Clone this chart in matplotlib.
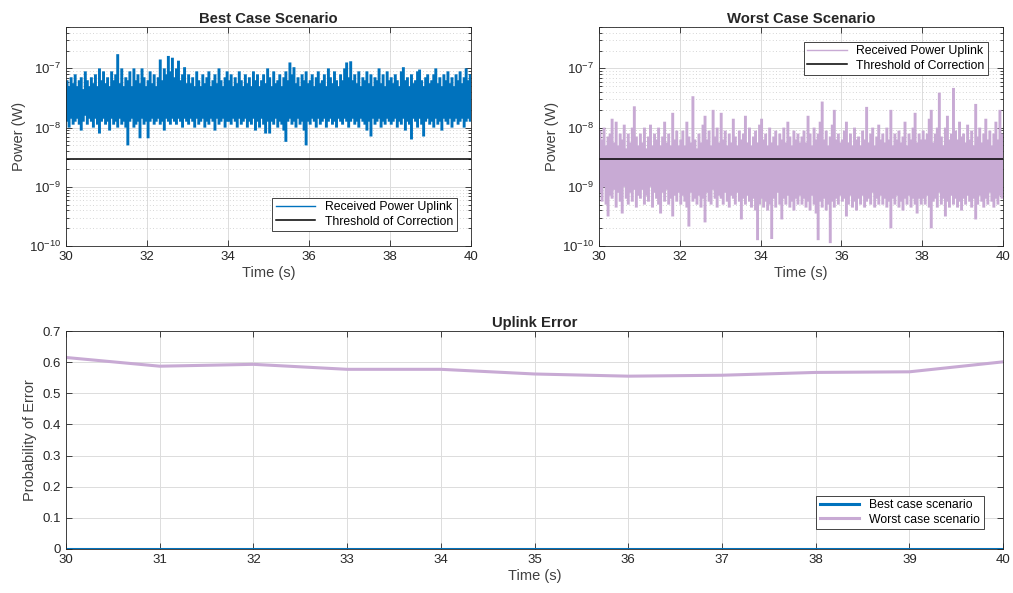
import numpy as np
import matplotlib.pyplot as plt
from matplotlib.ticker import LogLocator, MultipleLocator, NullFormatter

plt.rcParams['font.family'] = ['Liberation Sans', 'DejaVu Sans']
plt.rcParams['mathtext.fontset'] = 'custom'
plt.rcParams['mathtext.rm'] = 'Liberation Sans'
plt.rcParams['mathtext.default'] = 'regular'

# received power is very dense, so it is read off the picture as the
# top and bottom of the trace in 200 slices of 0.05 s, in log10(W)
best_upper = [
    -7.2, -7.3, -7.15, -7.25, -7.1, -7.3, -7.2, -7.15, -7.35, -7.05, -7.2, -7.3, -7.15, -7.25, -7.1, -7.3, -7.0, -7.2, -7.05, -7.25,
    -7.15, -7.3, -7.05, -7.2, -7.1, -6.76, -7.25, -7.0, -7.3, -7.15, -7.2, -7.05, -7.3, -7.0, -7.2, -7.1, -7.25, -7.0, -7.15, -7.3,
    -7.2, -7.05, -7.25, -7.1, -7.3, -7.15, -6.85, -7.2, -7.0, -7.1, -6.79, -7.05, -6.82, -7.15, -7.0, -6.87, -7.2, -7.1, -6.98, -7.25,
    -7.1, -7.25, -7.15, -7.3, -7.05, -7.2, -7.3, -7.1, -7.25, -7.15, -7.05, -7.3, -7.2, -7.1, -7.25, -7.0, -7.2, -7.3, -7.15, -7.05,
    -7.2, -7.1, -7.3, -7.15, -7.25, -7.05, -7.2, -7.3, -7.1, -7.25, -7.15, -7.3, -7.05, -7.2, -7.1, -7.3, -7.2, -7.1, -7.25, -7.0,
    -7.15, -7.3, -7.05, -7.25, -7.2, -7.1, -7.3, -7.15, -7.05, -7.2, -6.9, -7.1, -6.98, -7.25, -7.15, -7.3, -7.1, -7.2, -7.05, -7.25,
    -7.2, -7.1, -7.3, -7.15, -7.05, -7.25, -7.2, -7.1, -7.3, -7.0, -7.15, -7.25, -7.05, -7.2, -7.3, -7.1, -7.2, -7.0, -6.9, -7.15,
    -6.88, -7.2, -7.1, -7.25, -7.05, -7.3, -7.15, -7.2, -7.05, -7.25, -7.1, -7.3, -7.15, -7.2, -7.0, -7.25, -7.1, -7.3, -7.05, -7.2,
    -7.15, -7.25, -7.1, -7.2, -7.3, -7.05, -6.98, -7.2, -7.15, -7.3, -7.1, -7.25, -7.2, -7.05, -7.02, -7.2, -7.3, -7.15, -7.1, -7.25,
    -7.2, -7.1, -7.0, -7.25, -7.15, -7.3, -7.1, -7.2, -7.05, -7.25, -7.15, -7.3, -7.1, -7.2, -7.05, -7.25, -7.15, -7.0, -7.2, -7.1,
]
best_lower = [
    -7.9, -8.0, -7.85, -7.95, -7.9, -7.85, -7.95, -8.05, -7.9, -7.8, -7.95, -7.85, -7.9, -8.0, -7.85, -7.95, -8.1, -7.9, -7.85, -7.95,
    -7.9, -8.05, -7.85, -7.95, -7.9, -8.0, -7.85, -7.95, -7.9, -8.0, -8.3, -7.9, -7.85, -8.0, -7.95, -7.9, -8.18, -7.85, -7.95, -7.9,
    -8.18, -7.9, -7.85, -7.95, -7.9, -7.85, -7.95, -7.9, -8.05, -7.85, -7.9, -7.95, -7.85, -7.9, -7.95, -7.85, -7.9, -8.0, -7.85, -7.9,
    -7.95, -7.85, -7.9, -8.0, -7.85, -7.95, -7.9, -7.85, -8.0, -7.9, -7.95, -7.85, -7.9, -8.05, -7.85, -7.95, -7.9, -7.85, -8.0, -7.9,
    -7.9, -7.95, -7.85, -7.9, -8.0, -7.85, -7.95, -7.9, -7.85, -8.0, -7.9, -7.95, -7.85, -8.05, -7.9, -8.0, -7.85, -7.95, -8.1, -7.9,
    -8.1, -7.9, -7.95, -7.85, -8.0, -7.9, -7.95, -8.05, -8.24, -7.9, -7.85, -7.95, -7.9, -8.0, -7.85, -7.95, -7.9, -8.05, -8.3, -7.9,
    -7.95, -7.85, -7.9, -8.0, -7.85, -7.95, -7.9, -7.85, -8.0, -7.9, -7.85, -7.95, -7.9, -8.0, -7.85, -7.9, -7.95, -7.85, -7.9, -8.0,
    -7.9, -7.85, -7.95, -7.9, -8.0, -7.85, -7.9, -7.95, -8.05, -7.9, -8.15, -7.85, -7.95, -7.9, -7.85, -8.0, -7.9, -7.95, -7.85, -7.9,
    -7.95, -7.9, -7.85, -8.0, -7.9, -7.95, -7.85, -8.05, -7.9, -7.95, -8.2, -7.85, -7.9, -8.0, -7.85, -7.95, -8.15, -7.9, -7.85, -7.95,
    -7.9, -8.0, -7.85, -7.95, -7.9, -8.05, -7.85, -7.9, -7.95, -7.85, -8.0, -7.9, -7.85, -7.95, -7.9, -7.85, -8.0, -7.9, -7.85, -7.9,
]
worst_upper = [
    -8.05, -8.2, -8.0, -8.3, -8.15, -8.1, -7.85, -8.25, -7.9, -8.3, -8.1, -8.2, -7.95, -8.35, -8.1, -8.25, -8.0, -7.64, -8.15, -8.3,
    -8.1, -8.25, -8.0, -8.35, -8.15, -7.95, -8.3, -8.1, -8.2, -8.0, -8.3, -8.15, -7.9, -8.25, -8.1, -8.3, -7.75, -8.2, -8.05, -8.3,
    -8.2, -8.05, -8.3, -7.9, -8.15, -8.25, -7.47, -8.2, -8.35, -8.1, -8.25, -7.95, -7.8, -8.2, -8.05, -8.3, -7.7, -8.15, -8.0, -8.25,
    -7.75, -8.2, -8.05, -8.3, -8.1, -8.25, -7.85, -8.15, -8.3, -8.05, -8.2, -8.1, -7.8, -8.25, -8.0, -8.3, -8.15, -8.05, -8.25, -7.95,
    -7.85, -8.2, -8.1, -8.3, -8.0, -8.25, -8.15, -8.05, -8.3, -8.1, -8.2, -8.0, -8.25, -7.9, -8.15, -8.3, -8.05, -8.2, -8.1, -8.25,
    -8.15, -8.05, -8.25, -7.8, -8.1, -8.3, -8.0, -8.2, -8.1, -7.9, -7.56, -8.2, -8.05, -8.3, -8.15, -7.95, -7.7, -8.2, -8.1, -8.25,
    -8.2, -8.05, -7.9, -8.25, -8.1, -8.3, -8.0, -8.2, -8.15, -8.3, -8.05, -8.2, -7.65, -8.25, -8.1, -8.0, -8.3, -8.15, -7.95, -8.2,
    -8.1, -8.25, -8.0, -8.2, -7.7, -8.3, -8.1, -8.2, -8.05, -8.25, -8.15, -7.9, -8.3, -8.1, -8.2, -8.0, -7.75, -8.25, -8.1, -8.2,
    -8.05, -8.2, -8.1, -7.85, -7.7, -8.25, -8.1, -8.0, -7.41, -8.15, -8.3, -8.0, -7.8, -8.2, -8.1, -7.33, -8.05, -8.2, -7.9, -8.15,
    -8.1, -8.25, -7.95, -8.2, -8.05, -8.3, -7.6, -8.15, -8.0, -8.25, -8.1, -7.85, -8.2, -8.05, -8.3, -8.1, -7.9, -8.2, -7.7, -8.1,
]
worst_lower = [
    -9.1, -9.25, -9.0, -9.3, -9.5, -9.15, -9.2, -9.05, -9.35, -9.1, -9.25, -9.45, -9.0, -9.2, -9.3, -9.1, -9.25, -9.05, -9.35, -9.15,
    -9.2, -9.05, -9.3, -9.15, -9.25, -9.0, -9.35, -9.1, -9.2, -9.3, -9.45, -9.1, -9.25, -9.05, -9.3, -9.2, -9.5, -9.15, -9.25, -9.1,
    -9.3, -9.15, -9.25, -9.35, -9.67, -9.1, -9.25, -9.2, -9.3, -9.15, -9.35, -9.2, -9.6, -9.1, -9.25, -9.3, -9.05, -9.2, -9.35, -9.15,
    -9.2, -9.3, -9.1, -9.25, -9.35, -9.15, -9.2, -9.3, -9.1, -9.25, -9.55, -9.2, -9.3, -9.15, -9.25, -9.35, -9.2, -9.4, -9.9, -9.3,
    -9.2, -9.35, -9.25, -9.4, -9.3, -9.88, -9.2, -9.35, -9.1, -9.3, -9.55, -9.2, -9.3, -9.15, -9.35, -9.25, -9.4, -9.2, -9.3, -9.15,
    -9.3, -9.2, -9.35, -9.25, -9.4, -9.15, -9.3, -9.45, -9.9, -9.25, -9.35, -9.2, -9.4, -9.3, -9.95, -9.25, -9.35, -9.2, -9.3, -9.15,
    -9.25, -9.2, -9.5, -9.3, -9.15, -9.35, -9.25, -9.4, -9.2, -9.3, -9.15, -9.35, -9.25, -9.2, -9.3, -9.1, -9.35, -9.2, -9.3, -9.15,
    -9.3, -9.2, -9.35, -9.25, -9.7, -9.2, -9.3, -9.15, -9.35, -9.25, -9.4, -9.2, -9.3, -9.15, -9.35, -9.2, -9.3, -9.45, -9.2, -9.3,
    -9.2, -9.3, -9.15, -9.35, -9.7, -9.25, -9.2, -9.35, -9.1, -9.3, -9.2, -9.5, -9.25, -9.35, -9.15, -9.3, -9.2, -9.35, -9.25, -9.4,
    -9.2, -9.3, -9.15, -9.25, -9.35, -9.2, -9.55, -9.3, -9.15, -9.25, -9.35, -9.2, -9.3, -9.1, -9.25, -9.35, -9.2, -9.3, -9.15, -9.2,
]
threshold = 3e-9

error_time = [30, 31, 32, 33, 34, 35, 36, 37, 38, 39, 40]
best_error = [0, 0, 0, 0, 0, 0, 0, 0, 0, 0, 0]
worst_error = [0.615, 0.587, 0.593, 0.577, 0.577, 0.562, 0.555, 0.558, 0.567, 0.569, 0.601]

blue = '#0072BD'
purple = '#C8AAD4'
dark = '#262626'


def style_axes(ax, log=False):
    ax.tick_params(which='both', direction='in', top=True, right=True,
                   colors=dark, labelcolor=dark, labelsize=9.5, width=0.6)
    ax.tick_params(which='major', length=4)
    ax.tick_params(which='minor', length=2)
    for s in ax.spines.values():
        s.set_color(dark)
        s.set_linewidth(0.6)
    ax.grid(True, which='major', color='#DCDCDC', linewidth=0.7)
    if log:
        ax.grid(True, which='minor', color='#C8C8C8', linestyle=(0, (1, 3)), linewidth=0.6)
    ax.set_axisbelow(True)


def power_panel(ax, upper, lower, color, title, legend_loc):
    t = np.linspace(30.025, 39.975, len(upper))
    ax.vlines(t, 10.0 ** np.array(lower), 10.0 ** np.array(upper), color=color,
              linewidth=2.1, capstyle='butt', snap=False)
    ax.plot([], [], color=color, linewidth=1.0, label='Received Power Uplink')
    ax.axhline(threshold, color='black', linewidth=1.1, label='Threshold of Correction')
    ax.set_yscale('log')
    ax.set_xlim(30, 40)
    ax.set_ylim(1e-10, 5e-7)
    ax.xaxis.set_major_locator(MultipleLocator(2))
    ax.yaxis.set_major_locator(LogLocator(base=10, numticks=10))
    ax.yaxis.set_minor_locator(LogLocator(base=10, subs=np.arange(2, 10), numticks=10))
    ax.yaxis.set_minor_formatter(NullFormatter())
    style_axes(ax, log=True)
    ax.set_title(title, fontsize=10.7, fontweight='bold', color=dark, pad=3)
    ax.set_xlabel('Time (s)', fontsize=10.5, color='#404040', labelpad=2)
    ax.set_ylabel('Power (W)', fontsize=10.5, color='#404040', labelpad=2)
    leg = ax.legend(loc=legend_loc, fontsize=8.8, fancybox=False, framealpha=1,
                    edgecolor=dark, borderpad=0.3, handlelength=3.2, labelspacing=0.2,
                    borderaxespad=1.2)
    leg.get_frame().set_linewidth(0.6)


fig = plt.figure(figsize=(10.13, 5.93), dpi=100)
ax1 = fig.add_axes([0.0652, 0.585, 0.400, 0.3695])
ax2 = fig.add_axes([0.5913, 0.585, 0.3988, 0.3695])
ax3 = fig.add_axes([0.0652, 0.0742, 0.925, 0.3676])

power_panel(ax1, best_upper, best_lower, blue, 'Best Case Scenario', 'lower right')
power_panel(ax2, worst_upper, worst_lower, purple, 'Worst Case Scenario', 'upper right')

ax3.plot(error_time, best_error, color=blue, linewidth=2.2, label='Best case scenario')
ax3.plot(error_time, worst_error, color=purple, linewidth=2.2, label='Worst case scenario')
ax3.set_xlim(30, 40)
ax3.set_ylim(0, 0.7)
ax3.xaxis.set_major_locator(MultipleLocator(1))
ax3.yaxis.set_major_locator(MultipleLocator(0.1))
ax3.yaxis.set_major_formatter(plt.FuncFormatter(lambda v, p: '0' if abs(v) < 1e-9 else f'{v:.1f}'))
style_axes(ax3)
ax3.set_title('Uplink Error', fontsize=10.7, fontweight='bold', color=dark, pad=3)
ax3.set_xlabel('Time (s)', fontsize=10.5, color='#404040', labelpad=2)
ax3.set_ylabel('Probability of Error', fontsize=10.5, color='#404040', labelpad=4)
leg = ax3.legend(loc='lower right', fontsize=8.8, fancybox=False, framealpha=1,
                 edgecolor=dark, borderpad=0.3, handlelength=3.2, labelspacing=0.2,
                 borderaxespad=1.6)
leg.get_frame().set_linewidth(0.6)

fig.savefig('out.png', dpi=100)
